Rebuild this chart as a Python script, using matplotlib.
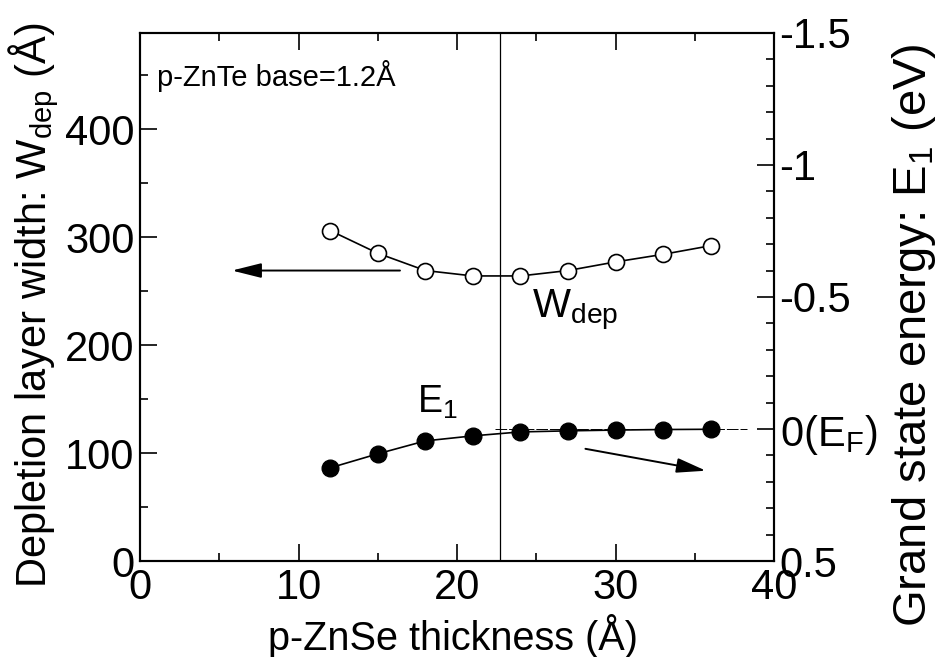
import numpy as np
import matplotlib
matplotlib.use("Agg")
from matplotlib import pyplot as plt
from matplotlib.ticker import MultipleLocator, FixedLocator

plt.rcParams['font.family'] = ['Liberation Sans', 'DejaVu Sans']
plt.rcParams['mathtext.default'] = 'regular'
plt.rcParams['axes.unicode_minus'] = False

# data
thickness = [12, 15, 18, 21, 24, 27, 30, 33, 36]  # p-ZnSe thickness (A)
w_dep = [306, 285, 269, 264, 264, 269, 277, 284, 292]  # depletion width (A)
e1 = [0.147, 0.094, 0.045, 0.026, 0.011, 0.007, 0.004, 0.002, 0.001]  # E1 (eV)
e_ticks = [-1.5, -1, -0.5, 0, 0.5]
e_ticklabels = ['-1.5', '-1', '-0.5', '0(E$_F$)', '0.5']
base_line = 22.7

fig = plt.figure(figsize=(9.41, 6.57), dpi=100)
ax = fig.add_axes([0.1488, 0.1461, 0.6738, 0.8037])
ax2 = ax.twinx()

fs = 30
ax.plot(thickness, w_dep, '-o', color='black', mfc='white', mec='black',
        ms=11.5, lw=1.2, mew=1.2, zorder=3)
ax2.plot(thickness, e1, '-o', color='black', mfc='black', mec='black',
         ms=12, lw=1.2, zorder=3)
ax2.plot([22.4, 38.3], [0, 0], color='black', lw=0.7, dashes=(12, 2))
ax.axvline(base_line, color='black', lw=0.9)

ax.set_xlim(0, 40)
ax.set_ylim(0, 489)
ax2.set_ylim(0.5, -1.5)

ax.xaxis.set_major_locator(MultipleLocator(10))
ax.xaxis.set_minor_locator(MultipleLocator(5))
ax.yaxis.set_major_locator(FixedLocator([0, 100, 200, 300, 400]))
ax.yaxis.set_minor_locator(MultipleLocator(50))
ax2.yaxis.set_major_locator(FixedLocator(e_ticks))
ax2.set_yticklabels(e_ticklabels)
ax2.yaxis.set_minor_locator(MultipleLocator(0.1))

ax.tick_params(which='both', direction='in', top=True, right=False, labelsize=fs, width=1.2)
ax.tick_params(which='major', length=12)
ax.tick_params(which='minor', length=6)
ax.tick_params(axis='y', pad=4)
ax.tick_params(axis='x', pad=5)
ax2.tick_params(which='both', direction='in', labelsize=fs, width=1.2, pad=4)
ax2.tick_params(which='major', length=12)
ax2.tick_params(which='minor', length=6)

for a in (ax, ax2):
    for s in a.spines.values():
        s.set_linewidth(1.5)

# axis titles placed to match the reference
fig.text(453 / 941, 1 - 636 / 657, 'p-ZnSe thickness (Å)', fontsize=28.5,
         ha='center', va='center')
fig.text(34 / 941, 1 - 305 / 657, 'Depletion layer width: W$_{dep}$ (Å)',
         fontsize=30, rotation=90, ha='center', va='center')
fig.text(914 / 941, 1 - 335 / 657, 'Grand state energy: E$_1$ (eV)',
         fontsize=34, rotation=90, ha='center', va='center')

ax.text(1.05, 449, 'p-ZnTe base=1.2Å', fontsize=21, va='center', ha='left')
ax.text(24.7, 226, 'W$_{dep}$', fontsize=29, va='baseline', ha='left')
ax.text(17.5, 137, 'E$_1$', fontsize=27, va='baseline', ha='left')

head = '-|>,head_length=1.8,head_width=0.45'
ax.annotate('', xy=(5.8, 269), xytext=(16.4, 269),
            arrowprops=dict(arrowstyle=head, color='black', lw=1.4,
                            shrinkA=0, shrinkB=0))
ax2.annotate('', xy=(35.7, 0.158), xytext=(28.1, 0.075),
             arrowprops=dict(arrowstyle=head, color='black', lw=1.4,
                             shrinkA=0, shrinkB=0))

fig.savefig('out.png', dpi=100)
